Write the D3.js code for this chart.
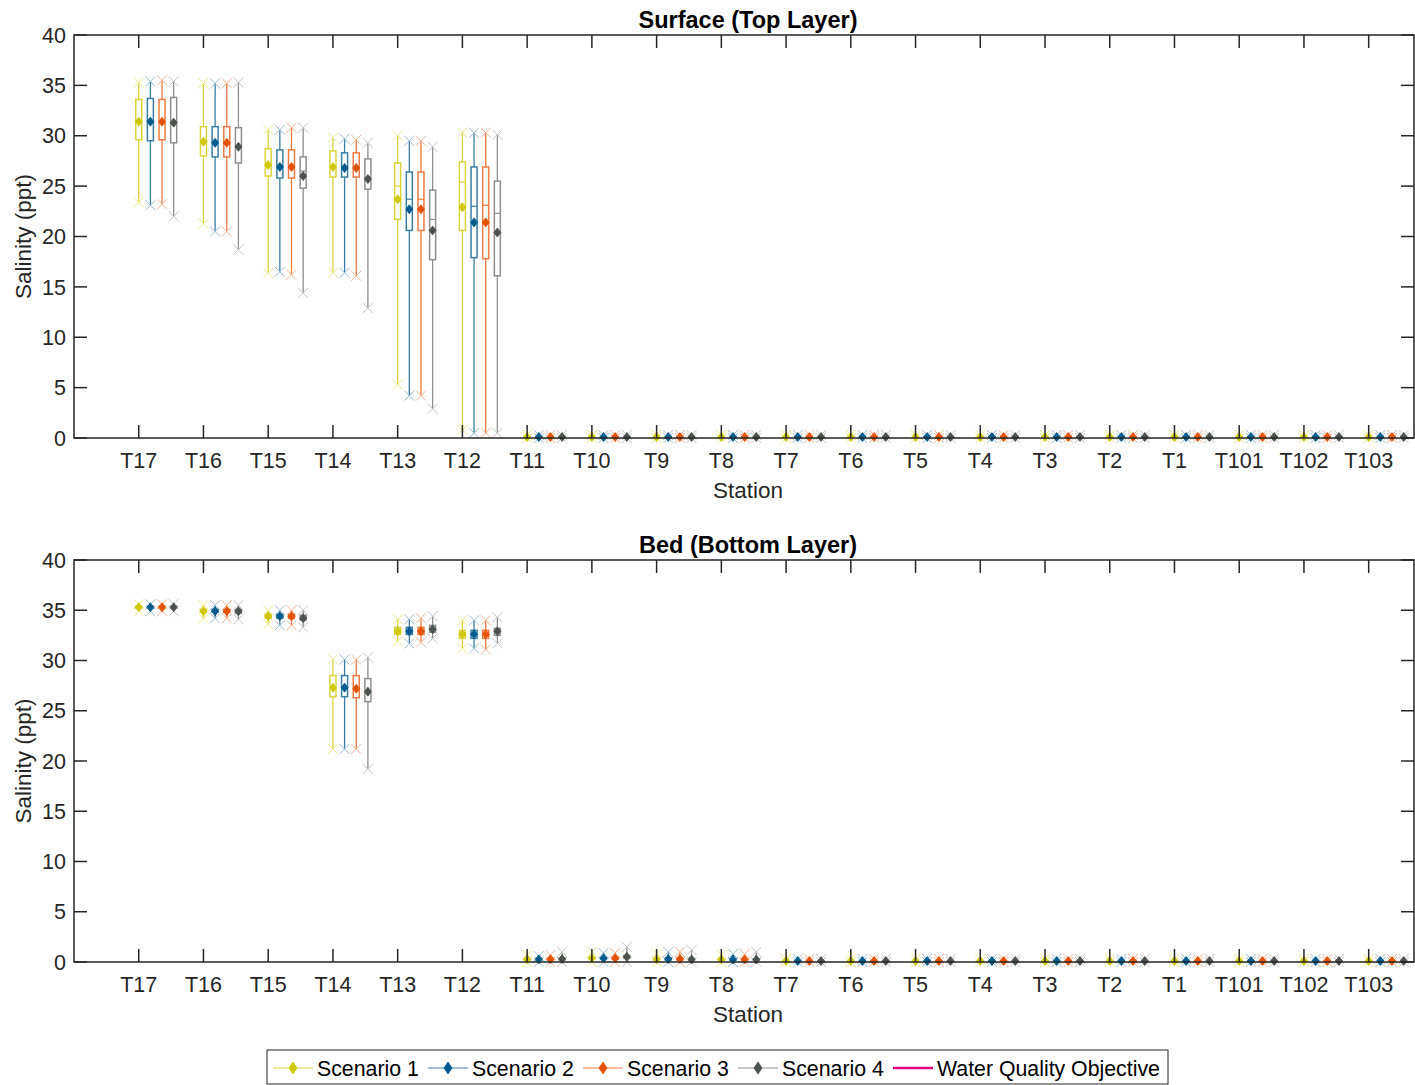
<!DOCTYPE html>
<html>
<head>
<meta charset="utf-8">
<script src="https://cdn.jsdelivr.net/npm/d3@7/dist/d3.min.js"></script>
<style>
  html, body { margin: 0; padding: 0; background: #fff; }
  svg { display: block; font-family: "Liberation Sans", Arial, Helvetica, sans-serif; }
</style>
</head>
<body>
<svg id="chart" width="1415" height="1085"></svg>
<script>
// Stations along the estuary
const stations = ["T17","T16","T15","T14","T13","T12","T11","T10","T9","T8",
                  "T7","T6","T5","T4","T3","T2","T1","T101","T102","T103"];
const scenarios = ["Scenario 1","Scenario 2","Scenario 3","Scenario 4"];
const yTicks = [0,5,10,15,20,25,30,35,40];

// Box statistics per station: [min, q1, median, q3, max, mean] (ppt)
const fresh = [0, 0.05, 0.1, 0.15, 0.3, 0.1];
const surfaceS1 = [
  [23.4,29.6,31.4,33.6,35.3,31.4],[21.3,28.0,29.4,30.9,35.2,29.4],[16.4,26.0,27.1,28.7,30.6,27.1],
  [16.4,25.9,27.0,28.5,29.8,26.9],[5.3,21.7,25.0,27.3,30.0,23.7],[0.8,20.6,25.4,27.4,30.3,22.9],
  fresh,fresh,fresh,fresh,fresh,fresh,fresh,fresh,fresh,fresh,fresh,fresh,fresh,fresh];
const surfaceS2 = [
  [23.1,29.5,31.4,33.7,35.4,31.4],[20.5,27.9,29.3,30.9,35.2,29.3],[16.5,25.8,26.9,28.6,30.6,26.9],
  [16.4,25.9,26.8,28.3,29.7,26.8],[4.2,20.6,23.7,26.4,29.5,22.7],[0.5,17.9,23.0,26.9,30.3,21.4],
  fresh,fresh,fresh,fresh,fresh,fresh,fresh,fresh,fresh,fresh,fresh,fresh,fresh,fresh];
const surfaceS3 = [
  [23.2,29.6,31.4,33.6,35.5,31.4],[20.5,27.9,29.3,30.9,35.2,29.3],[16.2,25.8,26.9,28.6,30.8,26.9],
  [16.1,25.9,26.8,28.3,29.6,26.8],[4.2,20.6,23.7,26.4,29.5,22.7],[0.5,17.8,23.1,26.9,30.3,21.4],
  fresh,fresh,fresh,fresh,fresh,fresh,fresh,fresh,fresh,fresh,fresh,fresh,fresh,fresh];
const surfaceS4 = [
  [22.0,29.3,31.3,33.8,35.4,31.3],[18.7,27.3,28.9,30.8,35.3,28.9],[14.4,24.8,26.5,27.9,30.8,26.0],
  [12.9,24.7,25.9,27.7,29.3,25.7],[2.9,17.7,21.7,24.6,28.9,20.6],[0.5,16.1,22.3,25.5,30.1,20.4],
  fresh,fresh,fresh,fresh,fresh,fresh,fresh,fresh,fresh,fresh,fresh,fresh,fresh,fresh];

const bedS1 = [
  [34.9,35.2,35.3,35.4,35.6,35.3],[34.2,34.8,34.9,35.1,35.5,34.9],[33.6,34.2,34.4,34.6,35.0,34.4],
  [21.2,26.4,27.3,28.5,30.1,27.3],[31.9,32.6,32.9,33.3,34.1,32.9],[31.2,32.2,32.6,33.0,34.0,32.6],
  [0,0.2,0.27,0.35,0.7,0.27],[0,0.3,0.37,0.45,1.0,0.37],[0,0.2,0.27,0.35,0.9,0.27],[0,0.18,0.25,0.3,0.7,0.25],
  fresh,fresh,fresh,fresh,fresh,fresh,fresh,fresh,fresh,fresh];
const bedS2 = [
  [34.9,35.2,35.3,35.4,35.6,35.3],[34.2,34.8,34.9,35.1,35.5,34.9],[33.5,34.2,34.4,34.6,35.0,34.4],
  [21.2,26.4,27.3,28.5,30.1,27.3],[31.7,32.6,32.9,33.3,34.1,32.9],[31.2,32.2,32.6,33.0,34.0,32.6],
  [0,0.2,0.27,0.35,0.6,0.27],[0,0.3,0.37,0.45,0.9,0.37],[0,0.2,0.3,0.4,1.0,0.3],[0,0.18,0.25,0.3,0.8,0.25],
  fresh,fresh,fresh,fresh,fresh,fresh,fresh,fresh,fresh,fresh];
const bedS3 = [
  [34.9,35.2,35.3,35.4,35.6,35.3],[34.2,34.8,34.9,35.1,35.5,34.9],[33.5,34.2,34.4,34.6,35.0,34.4],
  [21.2,26.3,27.2,28.5,30.1,27.2],[31.8,32.6,32.9,33.3,34.2,32.9],[31.1,32.2,32.6,33.0,34.0,32.6],
  [0,0.2,0.27,0.35,0.7,0.27],[0,0.3,0.37,0.45,0.9,0.37],[0,0.2,0.3,0.4,1.0,0.3],[0,0.18,0.25,0.3,0.8,0.25],
  fresh,fresh,fresh,fresh,fresh,fresh,fresh,fresh,fresh,fresh];
const bedS4 = [
  [34.9,35.2,35.3,35.4,35.6,35.3],[34.1,34.7,34.9,35.1,35.5,34.9],[33.3,34.0,34.2,34.5,35.0,34.2],
  [19.2,25.9,26.9,28.2,30.3,26.9],[32.2,32.8,33.1,33.5,34.4,33.1],[31.7,32.5,32.9,33.2,34.3,32.9],
  [0,0.2,0.3,0.4,1.0,0.3],[0,0.4,0.53,0.65,1.5,0.53],[0,0.2,0.25,0.35,1.2,0.25],[0,0.18,0.25,0.3,1.0,0.25],
  fresh,fresh,fresh,fresh,fresh,fresh,fresh,fresh,fresh,fresh];

// Scenario styling
const lineColors   = ["#dcd43c", "#3a7da6", "#ee7a44", "#8f8f8f"];
const markColors   = ["#cfc800", "#005b8c", "#e45200", "#4b524e"];
const capColors    = ["#ece98e", "#9dbdd2", "#f5b495", "#c4c4c4"];
const wqoColor = "#e6007e";

const svg = d3.select("#chart");
const axisColor = "#262626";
const left = 74, right = 1414;
const x = d3.scaleLinear().domain([0, 20.7]).range([left, right]);
const offsets = [0, 0.18, 0.36, 0.54];
const boxW = 6;
const tickLen = 13;

function diamond(g, cx, cy, color, w = 7, h = 9) {
  g.append("path")
    .attr("d", `M${cx},${cy - h / 2}L${cx + w / 2},${cy}L${cx},${cy + h / 2}L${cx - w / 2},${cy}Z`)
    .attr("fill", color).attr("stroke", color).attr("stroke-width", 0.8);
}
function cross(g, cx, cy, color, s = 5) {
  g.append("path")
    .attr("d", `M${cx - s},${cy - s}L${cx + s},${cy + s}M${cx - s},${cy + s}L${cx + s},${cy - s}`)
    .attr("stroke", color).attr("stroke-width", 1).attr("fill", "none");
}

function panel(title, top, bottom, series) {
  const y = d3.scaleLinear().domain([0, 40]).range([bottom, top]);
  const g = svg.append("g");

  // boxes
  series.forEach((data, si) => {
    const sg = g.append("g");
    data.forEach((d, i) => {
      const [lo, q1, med, q3, hi, mean] = d;
      const cx = x(i + 1 + offsets[si]);
      sg.append("line").attr("x1", cx).attr("x2", cx).attr("y1", y(hi)).attr("y2", y(q3))
        .attr("stroke", lineColors[si]).attr("stroke-width", 1.3);
      sg.append("line").attr("x1", cx).attr("x2", cx).attr("y1", y(q1)).attr("y2", y(lo))
        .attr("stroke", lineColors[si]).attr("stroke-width", 1.3);
      sg.append("rect").attr("x", cx - boxW / 2).attr("width", boxW)
        .attr("y", y(q3)).attr("height", Math.max(0, y(q1) - y(q3)))
        .attr("fill", "#fff").attr("stroke", lineColors[si]).attr("stroke-width", 1.5);
      sg.append("line").attr("x1", cx - boxW / 2).attr("x2", cx + boxW / 2)
        .attr("y1", y(med)).attr("y2", y(med))
        .attr("stroke", lineColors[si]).attr("stroke-width", 1.2);
      cross(sg, cx, y(hi), capColors[si]);
      cross(sg, cx, y(lo), capColors[si]);
      diamond(sg, cx, y(mean), markColors[si]);
    });
  });

  // axes frame
  const ax = svg.append("g").attr("stroke", axisColor).attr("stroke-width", 1.5);
  ax.append("rect").attr("x", left).attr("y", top).attr("width", right - left).attr("height", bottom - top)
    .attr("fill", "none");
  stations.forEach((s, i) => {
    const tx = x(i + 1);
    ax.append("line").attr("x1", tx).attr("x2", tx).attr("y1", bottom).attr("y2", bottom - tickLen);
    ax.append("line").attr("x1", tx).attr("x2", tx).attr("y1", top).attr("y2", top + tickLen);
  });
  yTicks.forEach(t => {
    ax.append("line").attr("x1", left).attr("x2", left + tickLen).attr("y1", y(t)).attr("y2", y(t));
    ax.append("line").attr("x1", right).attr("x2", right - tickLen).attr("y1", y(t)).attr("y2", y(t));
  });

  // labels
  const tg = svg.append("g").attr("fill", "#262626").attr("font-size", 21.5);
  stations.forEach((s, i) => {
    tg.append("text").attr("x", x(i + 1)).attr("y", bottom + 30).attr("text-anchor", "middle").text(s);
  });
  yTicks.forEach(t => {
    tg.append("text").attr("x", left - 8).attr("y", y(t)).attr("dy", "0.36em")
      .attr("text-anchor", "end").text(t);
  });
  tg.append("text").attr("x", (left + right) / 2 + 4).attr("y", bottom + 60)
    .attr("text-anchor", "middle").attr("font-size", 22.5).text("Station");
  tg.append("text").attr("transform", `translate(31,${(top + bottom) / 2}) rotate(-90)`)
    .attr("text-anchor", "middle").attr("font-size", 22.5).text("Salinity (ppt)");
  svg.append("text").attr("x", (left + right) / 2 + 4).attr("y", top - 7)
    .attr("text-anchor", "middle").attr("font-size", 23.5).attr("font-weight", "bold")
    .attr("fill", "#000").text(title);
}

panel("Surface (Top Layer)", 35, 438, [surfaceS1, surfaceS2, surfaceS3, surfaceS4]);
panel("Bed (Bottom Layer)", 560, 962, [bedS1, bedS2, bedS3, bedS4]);

// legend
const lg = svg.append("g");
lg.append("rect").attr("x", 267).attr("y", 1050).attr("width", 901).attr("height", 34)
  .attr("fill", "#fff").attr("stroke", "#262626").attr("stroke-width", 1);
const legendItems = scenarios.map((s, i) => ({ label: s, color: lineColors[i], mark: markColors[i] }))
  .concat([{ label: "Water Quality Objective", color: wqoColor, mark: null }]);
const legendX = [273, 428, 583, 738, 893];
legendItems.forEach((it, i) => {
  const lx = legendX[i], ly = 1068;
  lg.append("line").attr("x1", lx).attr("x2", lx + 40).attr("y1", ly).attr("y2", ly)
    .attr("stroke", it.color).attr("stroke-width", it.mark ? 1.2 : 2.5);
  if (it.mark) diamond(lg, lx + 20, ly, it.mark, 8, 12);
  lg.append("text").attr("x", lx + 44).attr("y", ly).attr("dy", "0.36em")
    .attr("font-size", 21.3).attr("fill", "#000").text(it.label);
});
</script>
</body>
</html>
